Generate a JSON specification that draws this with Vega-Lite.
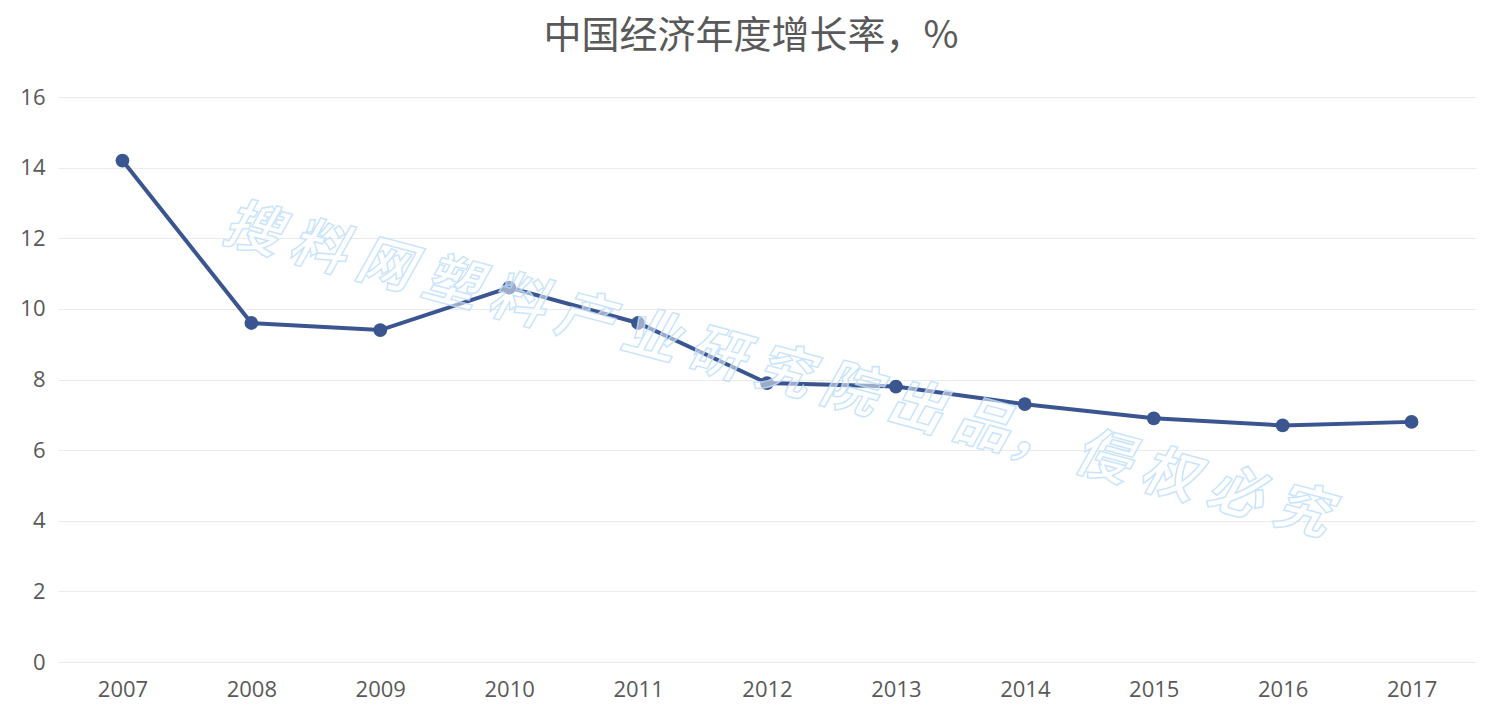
{
  "$schema": "https://vega.github.io/schema/vega-lite/v6.json",
  "autosize": "none",
  "width": 1418,
  "height": 565,
  "padding": {"left": 58, "top": 97, "right": 24, "bottom": 66},
  "background": "white",
  "title": {
    "text": "中国经济年度增长率，%",
    "fontSize": 38,
    "font": "Noto Sans CJK SC",
    "fontWeight": "normal",
    "color": "#595959",
    "offset": 30,
    "dx": -16,
    "anchor": "middle"
  },
  "datasets": {
    "gdp": [
      {"year": "2007", "growth": 14.2},
      {"year": "2008", "growth": 9.6},
      {"year": "2009", "growth": 9.4},
      {"year": "2010", "growth": 10.6},
      {"year": "2011", "growth": 9.6},
      {"year": "2012", "growth": 7.9},
      {"year": "2013", "growth": 7.8},
      {"year": "2014", "growth": 7.3},
      {"year": "2015", "growth": 6.9},
      {"year": "2016", "growth": 6.7},
      {"year": "2017", "growth": 6.8}
    ],
    "mark": [
      {"year": "2012", "growth": 8.3, "label": "搜 料 网 塑 料 产 业 研 究 院 出 品， 侵 权 必 究"}
    ]
  },
  "config": {
    "view": {"stroke": null},
    "axis": {"labelFont": "Open Sans", "labelColor": "#595959", "labelFontSize": 22}
  },
  "layer": [
    {
      "data": {"name": "gdp"},
      "mark": {"type": "line", "color": "#3A5590", "strokeWidth": 4, "point": {"filled": true, "size": 190, "color": "#3A5590", "opacity": 1}},
      "encoding": {
        "x": {
          "field": "year", "type": "ordinal",
          "scale": {"type": "point", "padding": 0.5},
          "axis": {"title": null, "labelAngle": 0, "domain": false, "ticks": false, "labelPadding": 17, "grid": false}
        },
        "y": {
          "field": "growth", "type": "quantitative",
          "scale": {"domain": [0, 16]},
          "axis": {"title": null, "values": [0, 2, 4, 6, 8, 10, 12, 14, 16], "domain": false, "ticks": false, "labelPadding": 13, "gridColor": "#EBEBEB", "gridWidth": 1}
        }
      }
    },
    {
      "data": {"name": "mark"},
      "mark": {"type": "text", "font": "Noto Sans CJK SC", "fontSize": 56, "fontWeight": "bold", "fontStyle": "italic", "angle": 15, "fill": "white", "fillOpacity": 0.5, "stroke": "#BBDDFB", "strokeWidth": 1.5, "strokeOpacity": 0.8, "align": "center", "baseline": "middle", "dx": 10},
      "encoding": {
        "x": {"field": "year", "type": "ordinal"},
        "y": {"field": "growth", "type": "quantitative"},
        "text": {"field": "label"}
      }
    }
  ]
}
